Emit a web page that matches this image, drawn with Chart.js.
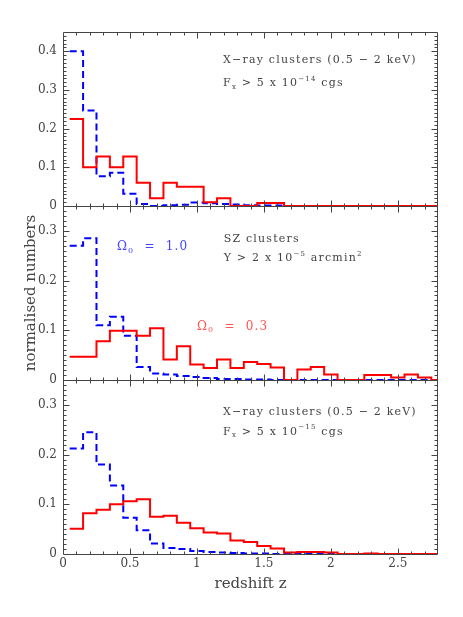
<!DOCTYPE html>
<html>
<head>
<meta charset="utf-8">
<script src="https://cdn.jsdelivr.net/npm/chart.js@4/dist/chart.umd.min.js"></script>
<style>
html,body{margin:0;padding:0;background:#fff;}
#wrap{position:relative;width:463px;height:617px;}
</style>
</head>
<body>
<div id="wrap"><canvas id="c" width="463" height="617"></canvas></div>
<script>
// ---- data (bin centres in redshift, bin width 0.1) ----
const redshiftBins = [0.1,0.2,0.3,0.4,0.5,0.6,0.7,0.8,0.9,1.0,1.1,1.2,1.3,1.4,1.5,1.6,1.7,1.8,1.9,2.0,2.1,2.2,2.3,2.4,2.5,2.6,2.7,2.8];
const binWidth = 0.1;

// Panel 1: X-ray clusters, Fx > 5e-14
const xray14_om03 = [0.225,0.100,0.128,0.100,0.128,0.060,0.020,0.060,0.050,0.050,0.010,0.020,0,0,0.008,0.008,0,0,0,0,0,0,0,0,0,0,0,0];
const xray14_om10 = [0.400,0.247,0.077,0.086,0.032,0.005,0.000,0.002,0.003,0.009,0.007,0.005,0.004,0.002,0.001,0.001,0,0,0,0,0,0,0,0,0,0,0,0];
// Panel 2: SZ clusters, Y > 2e-5 arcmin^2
const sz_om03 = [0.047,0.047,0.078,0.099,0.099,0.089,0.104,0.041,0.068,0.031,0.024,0.041,0.024,0.036,0.032,0.025,0,0.021,0.026,0.011,0,0,0.010,0.010,0.005,0.011,0.005,0];
const sz_om10 = [0.270,0.285,0.110,0.127,0.089,0.026,0.013,0.011,0.008,0.006,0.004,0.002,0.002,0.001,0.001,0,0,0,0,0,0,0,0,0,0,0,0,0];
// Panel 3: X-ray clusters, Fx > 5e-15
const xray15_om03 = [0.051,0.082,0.089,0.100,0.106,0.110,0.075,0.077,0.063,0.052,0.043,0.041,0.027,0.024,0.016,0.011,0.003,0.004,0.004,0.003,0,0,0.001,0,0,0,0,0];
const xray15_om10 = [0.212,0.245,0.180,0.138,0.073,0.048,0.021,0.012,0.010,0.006,0.004,0.003,0.002,0.001,0.001,0,0,0,0,0,0,0,0,0,0,0,0,0];

const xTickLabels = ['0','0.5','1','1.5','2','2.5'];
const panelMax = [0.45, 0.35, 0.35];

// ---- build step points (left bin edges + closing edge) ----
function stepPoints(vals){
  const pts = redshiftBins.map((z,i)=>({x: z - binWidth/2, y: vals[i]}));
  const n = redshiftBins.length - 1;
  pts.push({x: redshiftBins[n] + binWidth/2, y: vals[n]});
  return pts;
}

const RED = 'rgb(255,0,0)';
const BLUE = 'rgb(0,0,255)';
const TXT = '#444';
const SERIF = '"DejaVu Serif", serif';

function ds(vals, axis, color, dashed){
  return {
    data: stepPoints(vals), yAxisID: axis, borderColor: color, backgroundColor: color,
    borderWidth: 2, pointRadius: 0, stepped: true, tension: 0, fill: false,
    borderDash: dashed ? [7,4] : []
  };
}

function yScale(max, weight, extra){
  return Object.assign({
    type: 'linear', position: 'left', stack: 'panels', stackWeight: 1, weight: weight,
    min: 0, max: max,
    grid: {display: false, drawTicks: false}, border: {display: false},
    ticks: {stepSize: 0.1, includeBounds: false, padding: 6, color: TXT,
      font: {family: SERIF, size: 12},
      callback: v => (Math.abs(v) < 1e-9 ? '0' : (Math.round(v*10)/10).toFixed(1))},
    afterFit: s => { s.width = 63; }
  }, extra || {});
}

// ---- annotation text helper ----
function drawRich(ctx, parts, x, y, size, color){
  ctx.save();
  ctx.fillStyle = color;
  ctx.textBaseline = 'middle';
  ctx.textAlign = 'left';
  ctx.letterSpacing = '1.2px';
  let cx = x;
  for (const p of parts){
    const s = p.s ? Math.round(size*0.68) : size;
    ctx.font = s + 'px ' + SERIF;
    const dy = p.s === -1 ? size*0.3 : (p.s === 1 ? -size*0.38 : 0);
    ctx.fillText(p.t, cx, y + dy);
    cx += ctx.measureText(p.t).width;
  }
  ctx.restore();
}

const annotations = [
  {axis:'yTop', x:1.195, y:0.376, color:TXT, size:11, parts:[{t:'X\u2212ray clusters (0.5 \u2212 2 keV)'}]},
  {axis:'yTop', x:1.195, y:0.317, color:TXT, size:11, parts:[{t:'F'},{t:'x',s:-1},{t:' > 5 x 10'},{t:'\u221214',s:1},{t:' cgs'}]},
  {axis:'yMid', x:1.2, y:0.284, color:TXT, size:11, parts:[{t:'SZ clusters'}]},
  {axis:'yMid', x:1.2, y:0.245, color:TXT, size:11, parts:[{t:'Y > 2 x 10'},{t:'\u22125',s:1},{t:' arcmin'},{t:'2',s:1}]},
  {axis:'yMid', x:0.403, y:0.267, color:'rgb(70,70,255)', size:12, parts:[{t:'\u03A9'},{t:'0',s:-1},{t:'  =  1.0'}]},
  {axis:'yMid', x:1.0, y:0.107, color:'rgb(255,85,85)', size:12, parts:[{t:'\u03A9'},{t:'0',s:-1},{t:'  =  0.3'}]},
  {axis:'yBot', x:1.195, y:0.286, color:TXT, size:11, parts:[{t:'X\u2212ray clusters (0.5 \u2212 2 keV)'}]},
  {axis:'yBot', x:1.195, y:0.246, color:TXT, size:11, parts:[{t:'F'},{t:'x',s:-1},{t:' > 5 x 10'},{t:'\u221215',s:1},{t:' cgs'}]}
];

const framePlugin = {
  id: 'frame',
  afterDatasetsDraw(chart){
    const {ctx, chartArea: a, scales} = chart;
    const xs = scales.x;
    const panels = [scales.yTop, scales.yMid, scales.yBot];
    const L = Math.round(a.left) + 0.5, R = Math.round(a.right) - 0.5;
    ctx.save();
    ctx.strokeStyle = '#444';
    ctx.lineWidth = 1;
    ctx.beginPath();
    const bounds = [panels[0].top, panels[0].bottom, panels[1].bottom, panels[2].bottom].map(v => Math.round(v) + 0.5);
    bounds.forEach(y => { ctx.moveTo(L, y); ctx.lineTo(R, y); });
    ctx.moveTo(L, bounds[0]); ctx.lineTo(L, bounds[3]);
    ctx.moveTo(R, bounds[0]); ctx.lineTo(R, bounds[3]);
    // x ticks
    for (let k = 1; k < 28; k++){
      const px = Math.round(xs.getPixelForValue(k/10)) + 0.5;
      const len = (k % 5 === 0) ? 6 : 3;
      bounds.forEach((y, bi) => {
        const y0 = bi === 0 ? y : y - len;
        const y1 = bi === 3 ? y : y + len;
        ctx.moveTo(px, y0); ctx.lineTo(px, y1);
      });
    }
    // y ticks
    panels.forEach((p, pi) => {
      const n = Math.round(panelMax[pi]*100);
      for (let k = 1; k < n; k++){
        const py = Math.round(p.getPixelForValue(k/100)) + 0.5;
        const len = (k % 10 === 0) ? 6 : 3;
        ctx.moveTo(L, py); ctx.lineTo(L + len, py);
        ctx.moveTo(R, py); ctx.lineTo(R - len, py);
      }
    });
    ctx.stroke();
    ctx.restore();
    // annotations
    annotations.forEach(an => {
      const px = xs.getPixelForValue(an.x);
      const py = scales[an.axis].getPixelForValue(an.y);
      drawRich(ctx, an.parts, px, py, an.size, an.color);
    });
  }
};

new Chart(document.getElementById('c'), {
  type: 'line',
  data: {
    datasets: [
      ds(xray14_om03, 'yTop', RED, false),
      ds(xray14_om10, 'yTop', BLUE, true),
      ds(sz_om03, 'yMid', RED, false),
      ds(sz_om10, 'yMid', BLUE, true),
      ds(xray15_om03, 'yBot', RED, false),
      ds(xray15_om10, 'yBot', BLUE, true)
    ]
  },
  options: {
    responsive: false,
    animation: false,
    devicePixelRatio: 1,
    layout: {padding: {top: 32, right: 25, left: 0, bottom: 0}},
    plugins: {legend: {display: false}, tooltip: {enabled: false}},
    scales: {
      x: {
        type: 'linear', position: 'bottom', min: 0, max: 2.8,
        grid: {display: false, drawTicks: false}, border: {display: false},
        ticks: {stepSize: 0.5, includeBounds: false, padding: 3, color: TXT,
          font: {family: SERIF, size: 12},
          callback: v => xTickLabels[Math.round(v*2)] ?? ''},
        title: {display: true, text: 'redshift z', color: TXT,
          font: {family: SERIF, size: 15}, padding: {top: 0, bottom: 24}},
        afterFit: s => { s.height = 63; }
      },
      yTop: yScale(panelMax[0], 3),
      yMid: yScale(panelMax[1], 2, {title: {display: true, text: 'normalised numbers', color: TXT,
          font: {family: SERIF, size: 15}, padding: {top: 22, bottom: 0}}}),
      yBot: yScale(panelMax[2], 1)
    }
  },
  plugins: [framePlugin]
});
</script>
</body>
</html>
